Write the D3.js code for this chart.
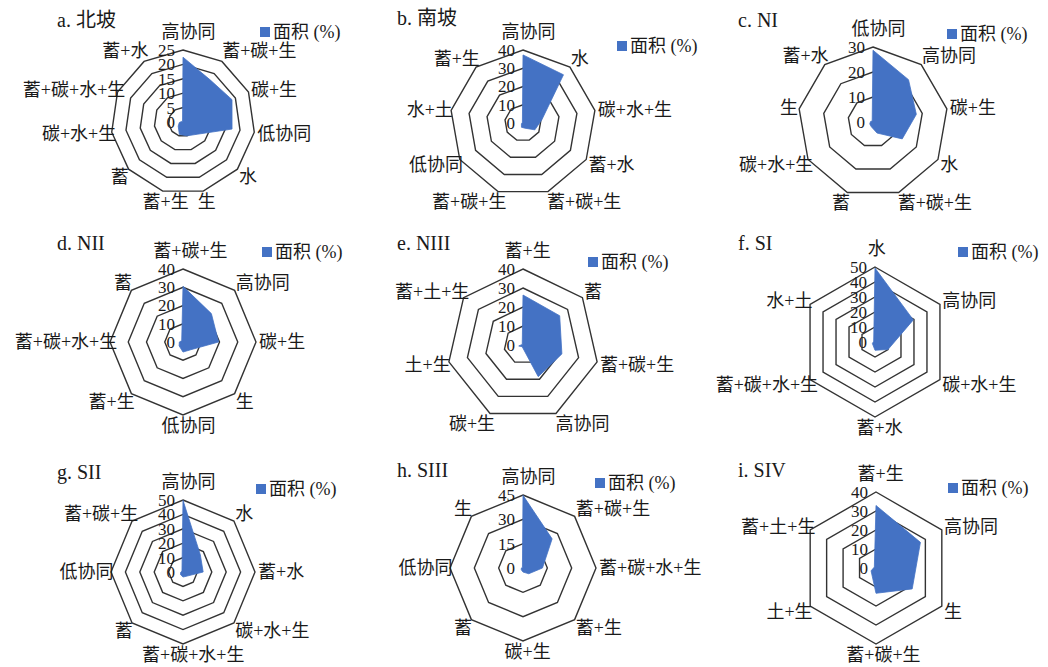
<!DOCTYPE html>
<html><head><meta charset="utf-8">
<script src="https://cdn.jsdelivr.net/npm/d3@7"></script>
<style>body{margin:0;background:#fff} svg{display:block}</style>
</head><body>
<svg id="chart" width="1048" height="667"></svg>
<script>
// a. 北坡
const catsA = ["高协同","蓄+碳+生","碳+生","低协同","水","生","蓄+生","蓄","碳+水+生","蓄+碳+水+生","蓄+水"];
const valsA = [22.5,17.4,18.7,17.2,6.5,5,4.5,2.2,1.3,0.5,0.3];
const ticksA = [0,5,10,15,20,25];
// b. 南坡
const catsB = ["高协同","水","碳+水+生","蓄+水","蓄+碳+生","蓄+碳+生","低协同","水+土","蓄+生"];
const valsB = [37.3,34.5,10.5,7.5,3,2.5,1,0.5,0.5];
const ticksB = [0,10,20,30,40];
// c. NI
const catsC = ["低协同","高协同","碳+生","水","蓄+碳+生","蓄","碳+水+生","生","蓄+水"];
const valsC = [28.7,22.1,17.6,13.5,4.7,2,1.5,1,0.5];
const ticksC = [0,10,20,30];
// d. NII
const catsD = ["蓄+碳+生","高协同","碳+生","生","低协同","蓄+生","蓄+碳+水+生","蓄"];
const valsD = [30.5,22,19.5,6,5.5,3,2,1];
const ticksD = [0,10,20,30,40];
// e. NIII
const catsE = ["蓄+生","蓄","蓄+碳+生","高协同","碳+生","土+生","蓄+土+生"];
const valsE = [26.3,24.7,21,18.5,1,2.3,0.5];
const ticksE = [0,10,20,30,40];
// f. SI
const catsF = ["水","高协同","碳+水+生","蓄+水","蓄+碳+水+生","水+土"];
const valsF = [49.3,29.5,10,5.5,2,1];
const ticksF = [0,10,20,30,40,50];
// g. SII
const catsG = ["高协同","水","蓄+水","碳+水+生","蓄+碳+水+生","蓄","低协同","蓄+碳+生"];
const valsG = [49.8,17,14,4,3.5,2.5,1.5,1];
const ticksG = [0,10,20,30,40,50];
// h. SIII
const catsH = ["高协同","蓄+碳+生","蓄+碳+水+生","蓄+生","碳+生","蓄","低协同","生"];
const valsH = [44.8,25.4,12,5,2.5,1.5,1,0.5];
const ticksH = [0,15,30,45];
// i. SIV
const catsI = ["蓄+生","高协同","生","蓄+碳+生","土+生","蓄+土+生"];
const valsI = [32.9,27,22,13.3,3,1];
const ticksI = [0,10,20,30,40];

const seriesName = "面积 (%)";

const panels = [
  {title:"a. 北坡", cats:catsA, vals:valsA, ticks:ticksA},
  {title:"b. 南坡", cats:catsB, vals:valsB, ticks:ticksB},
  {title:"c. NI",   cats:catsC, vals:valsC, ticks:ticksC},
  {title:"d. NII",  cats:catsD, vals:valsD, ticks:ticksD},
  {title:"e. NIII", cats:catsE, vals:valsE, ticks:ticksE},
  {title:"f. SI",   cats:catsF, vals:valsF, ticks:ticksF},
  {title:"g. SII",  cats:catsG, vals:valsG, ticks:ticksG},
  {title:"h. SIII", cats:catsH, vals:valsH, ticks:ticksH},
  {title:"i. SIV",  cats:catsI, vals:valsI, ticks:ticksI}
];

// placement of each small multiple: centre, outer radius, title and legend anchors
const layout = [
  {cx:183, cy:122, r:72, tx:57,  ty:20,  lx:260, ly:32},
  {cx:523, cy:123, r:73, tx:397, ty:18,  lx:617, ly:46},
  {cx:873, cy:122, r:75, tx:738, ty:20,  lx:947, ly:34},
  {cx:183, cy:342, r:73, tx:57,  ty:243, lx:262, ly:252},
  {cx:523, cy:345, r:76, tx:397, ty:243, lx:588, ly:262},
  {cx:875, cy:342, r:75, tx:738, ty:243, lx:958, ly:252},
  {cx:183, cy:572, r:72, tx:57,  ty:472, lx:256, ly:489},
  {cx:523, cy:568, r:73, tx:397, ty:470, lx:595, ly:483},
  {cx:876, cy:568, r:76, tx:738, ty:470, lx:948, ly:488}
];

const FONT = "'Liberation Serif','Times New Roman','Noto Sans CJK SC',serif";
const BLUE = "#4472C4";
const RING = "#333333";
const TEXT = "#1a1a1a";

const svg = d3.select("#chart");

panels.forEach((p, k) => {
  const L = layout[k];
  const n = p.cats.length;
  const step = 2 * Math.PI / n;
  const rScale = d3.scaleLinear().domain([0, d3.max(p.ticks)]).range([0, L.r]);
  const g = svg.append("g").attr("transform", `translate(${L.cx},${L.cy})`);

  // concentric polygon gridlines
  const ringLine = d3.lineRadial()
    .angle((d, i) => i * step)
    .radius(d => d)
    .curve(d3.curveLinearClosed);
  p.ticks.filter(t => t > 0).forEach(t => {
    g.append("path")
      .attr("d", ringLine(d3.range(n).map(() => rScale(t))))
      .attr("fill", "none")
      .attr("stroke", RING)
      .attr("stroke-width", 1.4);
  });

  // data area
  const area = d3.lineRadial()
    .angle((d, i) => i * step)
    .radius(d => rScale(d))
    .curve(d3.curveLinearClosed);
  g.append("path")
    .attr("d", area(p.vals))
    .attr("fill", BLUE)
    .attr("stroke", BLUE)
    .attr("stroke-width", 0.8);

  // value axis tick labels along the vertical spoke
  g.selectAll("text.tick").data(p.ticks).join("text")
    .attr("class", "tick")
    .attr("x", -8)
    .attr("y", d => -rScale(d))
    .attr("dy", "0.35em")
    .attr("text-anchor", "end")
    .attr("font-family", FONT)
    .attr("font-size", 17)
    .attr("fill", TEXT)
    .text(d => d);

  // category labels around the outer ring
  p.cats.forEach((c, i) => {
    const a = i * step;
    const s = Math.sin(a), co = Math.cos(a);
    const pr = L.r + 6;
    const x = pr * s;
    let y = -pr * co;
    y += co > 0 ? -12 * Math.pow(co, 4) : -co * 5;
    const anchor = Math.abs(s) < 0.3 ? "middle" : (s > 0 ? "start" : "end");
    const t = g.append("text")
      .attr("x", x)
      .attr("y", y)
      .attr("dy", "0.35em")
      .attr("text-anchor", anchor)
      .attr("font-family", FONT)
      .attr("font-size", 18)
      .attr("fill", TEXT)
      .text(c);
    const w = t.node().getComputedTextLength();
    const dx = anchor === "start" ? -3 : anchor === "middle" ? 0.1 * w : 0.1 * w + 3;
    t.attr("x", x + dx);
  });

  // panel title
  svg.append("text")
    .attr("x", L.tx)
    .attr("y", L.ty)
    .attr("dy", "0.35em")
    .attr("font-family", FONT)
    .attr("font-size", 20)
    .attr("fill", TEXT)
    .text(p.title);

  // legend
  svg.append("rect")
    .attr("x", L.lx).attr("y", L.ly - 5)
    .attr("width", 10).attr("height", 10)
    .attr("fill", BLUE);
  svg.append("text")
    .attr("x", L.lx + 13)
    .attr("y", L.ly)
    .attr("dy", "0.35em")
    .attr("font-family", FONT)
    .attr("font-size", 18)
    .attr("fill", TEXT)
    .text(seriesName);
});
</script>
</body></html>
